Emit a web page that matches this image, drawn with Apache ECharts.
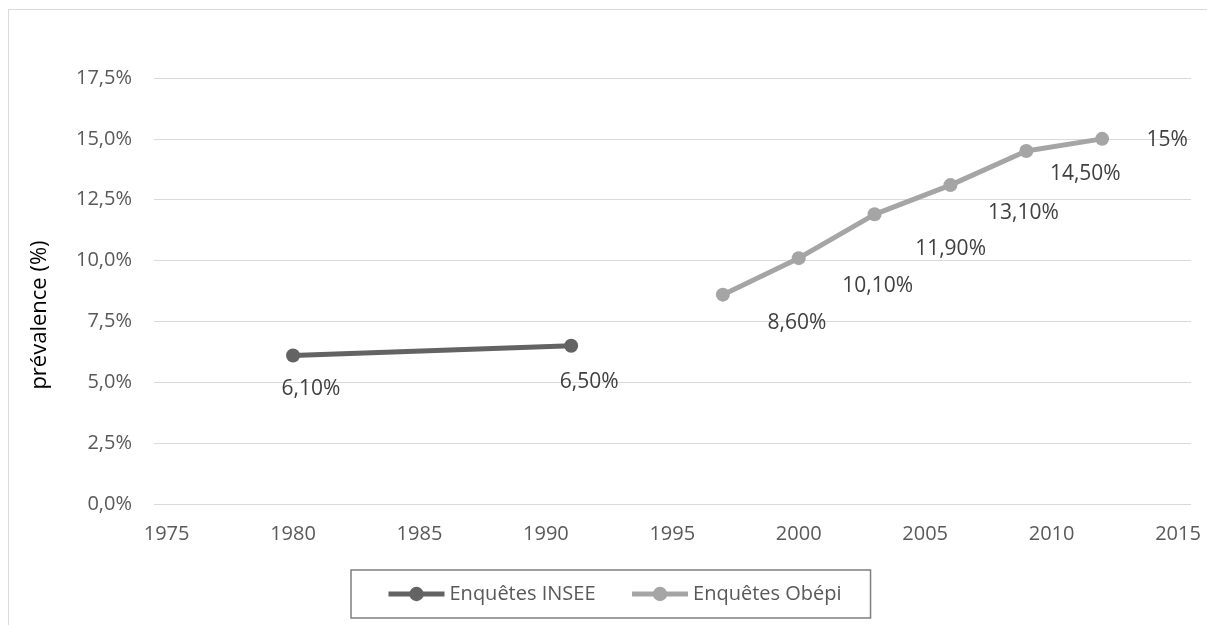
<!DOCTYPE html>
<html>
<head>
<meta charset="utf-8">
<script src="https://cdn.jsdelivr.net/npm/echarts@6/dist/echarts.min.js"></script>
<style>
html, body { margin: 0; padding: 0; background: #fff; }
#chart { width: 1207px; height: 625px; }
</style>
</head>
<body>
<div id="chart"></div>
<script>
// données
const inseeYears = [1980, 1991];
const inseeValues = [6.1, 6.5];
const inseeLabels = ['6,10%', '6,50%'];
const obepiYears = [1997, 2000, 2003, 2006, 2009, 2012];
const obepiValues = [8.6, 10.1, 11.9, 13.1, 14.5, 15];
const obepiLabels = ['8,60%', '10,10%', '11,90%', '13,10%', '14,50%', '15%'];
const seriesNames = ['Enquêtes INSEE', 'Enquêtes Obépi'];

// décalage des étiquettes (placées à la main dans l'original)
const inseeShift = [[18, 34], [18, 36]];
const obepiShift = [[74, 28], [79, 28], [76, 35], [73, 28], [59, 23], [65, 1]];

const FONT = '"Open Sans", sans-serif';

function buildPoints(years, values, labels, shift) {
    return years.map(function (y, i) {
        return {
            value: [y, values[i]],
            label: { formatter: labels[i], offset: shift[i] }
        };
    });
}

let chart = echarts.init(document.getElementById('chart'));

chart.setOption({
    animation: false,
    backgroundColor: '#fff',
    graphic: [
        {
            type: 'rect',
            shape: { x: 8.5, y: 9.5, width: 1300, height: 700 },
            style: { fill: 'none', stroke: '#d9d9d9', lineWidth: 1 },
            silent: true
        },
        {
            type: 'text',
            x: 40, y: 315,
            rotation: Math.PI / 2,
            style: {
                text: 'prévalence (%)',
                font: '22px ' + FONT,
                fill: '#000',
                align: 'center',
                verticalAlign: 'middle'
            }
        }
    ],
    grid: [
        // grille pour les lignes horizontales (un peu plus large)
        { left: 154, right: 16, top: 78, bottom: 121 },
        // grille des données
        { left: 166.6, right: 29, top: 78, bottom: 121 }
    ],
    xAxis: [
        { gridIndex: 0, type: 'value', min: 0, max: 1, show: false },
        {
            gridIndex: 1, type: 'value', min: 1975, max: 2015, interval: 5,
            axisLine: { show: false }, axisTick: { show: false }, splitLine: { show: false },
            axisLabel: {
                color: '#595959', fontSize: 20, fontFamily: FONT, margin: 20,
                formatter: function (v) { return String(v); }
            }
        }
    ],
    yAxis: [
        {
            gridIndex: 0, type: 'value', min: 0, max: 17.5, interval: 2.5,
            axisLine: { show: false }, axisTick: { show: false },
            splitLine: { lineStyle: { color: '#d9d9d9', width: 1 } },
            axisLabel: {
                color: '#595959', fontSize: 20, fontFamily: FONT, margin: 22,
                formatter: function (v) { return v.toFixed(1).replace('.', ',') + '%'; }
            }
        },
        { gridIndex: 1, type: 'value', min: 0, max: 17.5, interval: 2.5, show: false }
    ],
    legend: {
        left: 351, top: 570,
        data: seriesNames,
        itemWidth: 56, itemHeight: 18, itemGap: 34,
        padding: [14, 29, 14, 35],
        borderColor: '#7f7f7f', borderWidth: 1.5,
        lineStyle: { width: 5 },
        textStyle: { color: '#595959', fontSize: 20, fontFamily: FONT }
    },
    series: [
        {
            name: seriesNames[0], type: 'line', xAxisIndex: 1, yAxisIndex: 1,
            data: buildPoints(inseeYears, inseeValues, inseeLabels, inseeShift),
            symbol: 'circle', symbolSize: 14,
            lineStyle: { color: '#636363', width: 5 },
            itemStyle: { color: '#636363' },
            label: { show: true, position: 'inside', color: '#404040', fontSize: 21, fontFamily: FONT }
        },
        {
            name: seriesNames[1], type: 'line', xAxisIndex: 1, yAxisIndex: 1,
            data: buildPoints(obepiYears, obepiValues, obepiLabels, obepiShift),
            symbol: 'circle', symbolSize: 14,
            lineStyle: { color: '#a5a5a5', width: 5 },
            itemStyle: { color: '#a5a5a5' },
            label: { show: true, position: 'inside', color: '#404040', fontSize: 21, fontFamily: FONT }
        }
    ]
});
</script>
</body>
</html>
